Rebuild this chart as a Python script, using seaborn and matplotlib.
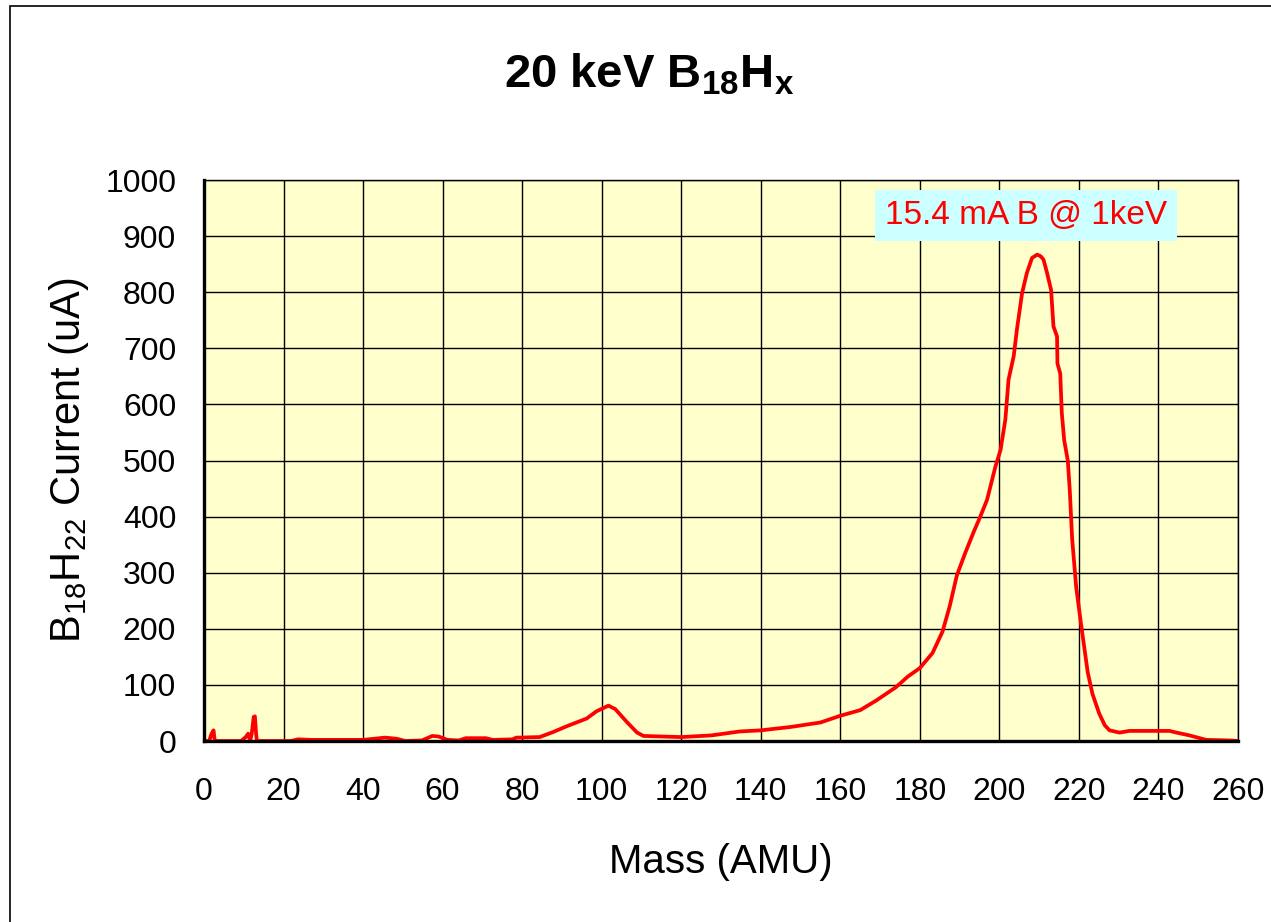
import numpy as np
import pandas as pd
import matplotlib
matplotlib.use('Agg')
import matplotlib.pyplot as plt
import seaborn as sns
from matplotlib.patches import Rectangle
from matplotlib.ticker import MultipleLocator

# mass scan of the B18Hx beam
mass = [0, 1.3, 1.9, 2.4, 2.7, 9.3, 10.5, 11.1, 11.6, 12.0, 12.5, 12.8, 13.1, 13.3,
        21.9, 23.6, 27, 33, 40, 45.5, 48.5, 50.6, 54.8, 57.4, 59, 61.2, 64.1, 65.8,
        70.9, 72.6, 77.6, 78.5, 84.4, 87.8, 91.1, 96.2, 98.7, 101.7, 103.4, 106.3,
        108.9, 110.5, 120, 127.6, 134.7, 140, 147.5, 155, 160, 165, 169, 174, 177,
        180, 183.2, 185.7, 187.5, 189.3, 191.4, 193.5, 195.2, 196.9, 199, 200.3,
        201.5, 202.3, 203.6, 204.4, 205.7, 206.9, 208.2, 209.5, 210.4, 211.1, 212,
        213, 213.6, 214.5, 214.6, 215.3, 215.7, 216.3, 217.2, 217.7, 218.3, 219.3,
        220.5, 222.2, 223.4, 225.1, 226.5, 227.7, 230.2, 232.7, 242.8, 244.5, 247.8,
        252, 257.9, 260]
current = [0, 0, 13, 19, 0, 0, 7, 13, 0, 13, 43, 44, 13, 0,
           0, 3, 2, 2, 2, 6, 4, 0, 1, 9, 8, 2, 1, 5,
           5, 2, 3, 6, 7, 16, 26, 40, 53, 63, 57, 34,
           15, 9, 7, 10, 17, 19, 25, 33, 45, 55, 72, 96, 115,
           130, 157, 195, 240, 295, 335, 372, 400, 430, 489, 519,
           573, 644, 686, 733, 798, 834, 861, 867, 864, 858, 834,
           804, 739, 721, 673, 655, 584, 536, 500, 447, 360, 275,
           210, 123, 84, 49, 28, 19, 15, 18, 18, 15, 10,
           2, 1, 0]

xticks = list(range(0, 261, 20))
yticks = list(range(0, 1001, 100))

df = pd.DataFrame({'Mass': mass, 'Current': current})

sns.set_style('white')
plt.rcParams['font.family'] = ['Liberation Sans', 'DejaVu Sans']
plt.rcParams['text.color'] = 'black'
plt.rcParams['axes.labelcolor'] = 'black'
plt.rcParams['xtick.color'] = 'black'
plt.rcParams['ytick.color'] = 'black'

fig = plt.figure(figsize=(12.71, 9.22), dpi=100)
ax = fig.add_axes([204/1271, 1-741/922, (1238-204)/1271, (741-180)/922])
ax.set_facecolor('#FFFFCC')

sns.lineplot(data=df, x='Mass', y='Current', ax=ax, color='red', lw=2.7,
             estimator=None, sort=False)

ax.set_xlim(0, 260)
ax.set_ylim(0, 1000)
ax.set_xticks(xticks)
ax.set_yticks(yticks)
ax.xaxis.set_minor_locator(MultipleLocator(5))
ax.yaxis.set_minor_locator(MultipleLocator(20))
ax.grid(True, which='major', color='black', lw=1.0)
ax.set_axisbelow(True)

ax.tick_params(which='major', direction='out', length=8, width=1.8,
               labelsize=23, color='black', labelcolor='black')
ax.tick_params(axis='y', which='major', pad=12)
ax.tick_params(axis='x', which='major', pad=18)
ax.tick_params(which='minor', direction='in', length=7, width=1.5, color='black')

for s in ['left', 'bottom']:
    ax.spines[s].set_linewidth(2.4)
    ax.spines[s].set_color('black')
for s in ['top', 'right']:
    ax.spines[s].set_linewidth(1.0)
    ax.spines[s].set_color('black')

ax.set_xlabel('Mass (AMU)', fontsize=29, labelpad=26)
ax.set_ylabel(r'$\mathregular{B_{18}H_{22}}$ Current (uA)', fontsize=30, labelpad=10)

fig.text(649/1271, 1-75/922, r'20 keV $\mathregular{B_{18}H_x}$', fontsize=34,
         fontweight='bold', ha='center', va='center')

ax.text(206.7, 936, '15.4 mA B @ 1keV', color='red', fontsize=24,
        ha='center', va='center',
        bbox=dict(boxstyle='square,pad=0.3', fc='#CCFFFF', ec='none'))

# outer frame of the chart sheet
fig.add_artist(Rectangle((10/1271, -0.1), 1.2, 1.1 - 6/922, transform=fig.transFigure,
                         fill=False, ec='black', lw=1.2, clip_on=False))

fig.savefig('out.png', dpi=100)
